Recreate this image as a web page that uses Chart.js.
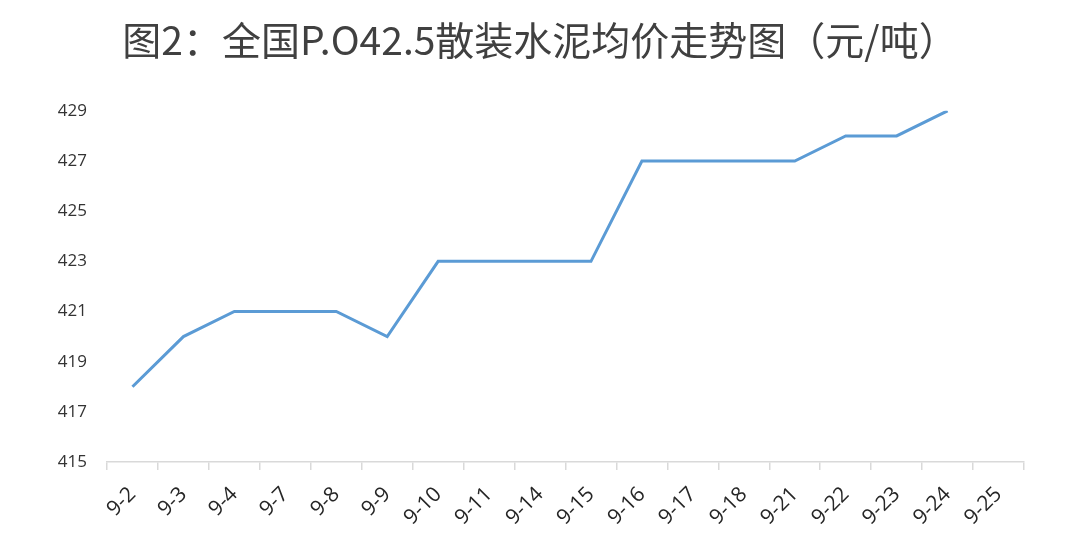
<!DOCTYPE html>
<html>
<head>
<meta charset="utf-8">
<script src="https://cdn.jsdelivr.net/npm/chart.js@4/dist/chart.umd.min.js"></script>
<style>
  html, body { margin: 0; padding: 0; background: #fff; }
  #wrap { width: 1080px; height: 555px; }
</style>
</head>
<body>
<div id="wrap"><canvas id="priceChart"></canvas></div>
<script>
// 日期与均价（元/吨）
const dates = ['9-2', '9-3', '9-4', '9-7', '9-8', '9-9', '9-10', '9-11', '9-14', '9-15', '9-16', '9-17', '9-18', '9-21', '9-22', '9-23', '9-24', '9-25'];
const prices = [418, 420, 421, 421, 421, 420, 423, 423, 423, 423, 427, 427, 427, 427, 428, 428, 429, null];
const yTicks = [415, 417, 419, 421, 423, 425, 427, 429];

const ctx = document.getElementById('priceChart').getContext('2d');
new Chart(ctx, {
    type: 'line',
    data: {
        labels: dates,
        datasets: [{
            data: prices,
            borderColor: 'rgb(91, 155, 213)',
            borderWidth: 3,
            pointRadius: 0,
            tension: 0,
            fill: false
        }]
    },
    options: {
        responsive: true,
        maintainAspectRatio: false,
        animation: false,
        // equal side padding keeps the title centred on the page
        layout: { padding: { left: 56, right: 56, top: 0, bottom: 5 } },
        plugins: {
            legend: { display: false },
            tooltip: { enabled: false },
            title: {
                display: true,
                text: '图2：全国P.O42.5散装水泥均价走势图（元/吨）',
                color: '#404040',
                font: { family: '"Noto Sans CJK SC", sans-serif', size: 39, weight: 'normal' },
                padding: { top: 17, bottom: 47 }
            }
        },
        scales: {
            x: {
                offset: true,
                grid: {
                    offset: true,
                    drawOnChartArea: false,
                    drawTicks: true,
                    tickLength: 8,
                    color: '#d9d9d9',
                    lineWidth: 1.5
                },
                border: { display: true, color: '#d9d9d9', width: 1.5 },
                ticks: {
                    autoSkip: false,
                    minRotation: 45,
                    maxRotation: 45,
                    padding: 12,
                    color: '#262626',
                    font: { family: '"Open Sans", "Noto Sans", sans-serif', size: 21 }
                },
                afterFit: s => { s.height = 88; }
            },
            y: {
                min: 415,
                max: 429,
                afterBuildTicks: s => { s.ticks = yTicks.map(v => ({ value: v })); },
                grid: { display: false },
                border: { display: false },
                ticks: {
                    color: '#333333',
                    padding: 12,
                    font: { family: '"Open Sans", "Noto Sans", sans-serif', size: 17 }
                },
                afterFit: s => { s.width = 51; }
            }
        }
    }
});
</script>
</body>
</html>
